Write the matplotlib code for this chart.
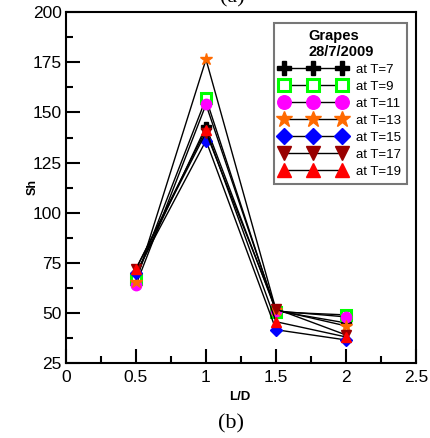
import matplotlib
matplotlib.use("Agg")
import matplotlib.pyplot as plt

plt.rcParams['font.family'] = ['Liberation Sans', 'DejaVu Sans']

x_ld = [0.5, 1.0, 1.5, 2.0]
labels = ["at T=7", "at T=9", "at T=11", "at T=13", "at T=15", "at T=17", "at T=19"]
sh_t7 = [69, 143, 51, 45]
sh_t9 = [67, 157, 50.5, 49]
sh_t11 = [64, 154, 51, 48]
sh_t13 = [65.5, 176.5, 51.5, 43.5]
sh_t15 = [70, 136, 41.6, 36.5]
sh_t17 = [72, 140, 52, 39]
sh_t19 = [72, 141.5, 45.6, 38]
series = [sh_t7, sh_t9, sh_t11, sh_t13, sh_t15, sh_t17, sh_t19]

styles = [
    dict(marker='P', mfc='black', mec='black', ms=7.5),
    dict(marker='s', mfc='white', mec='#00ff00', ms=7, mew=2.2),
    dict(marker='o', mfc='#ff00ff', mec='#ff00ff', ms=7.5),
    dict(marker='*', mfc='#ff6a00', mec='#ff6a00', ms=9),
    dict(marker='D', mfc='#0000ff', mec='#0000ff', ms=6),
    dict(marker='v', mfc='#990000', mec='#990000', ms=7.5),
    dict(marker='^', mfc='#ff0000', mec='#ff0000', ms=7.5),
]

fig = plt.figure(figsize=(4.3, 4.38), dpi=100)
ax = fig.add_axes([66/430, 1-363/438, (416-66)/430, (363-12.3)/438])

for ys, lab, st in zip(series, labels, styles):
    ax.plot(x_ld, ys, color='black', lw=1.0, label=lab, **st)

ax.set_xlim(0, 2.5)
ax.set_ylim(25, 200)
ax.set_xticks([0, 0.5, 1, 1.5, 2, 2.5])
ax.set_xticklabels(['0', '0.5', '1', '1.5', '2', '2.5'])
ax.set_yticks([25, 50, 75, 100, 125, 150, 175, 200])
ax.set_xticks([0.25, 0.75, 1.25, 1.75, 2.25], minor=True)
ax.set_yticks([37.5, 62.5, 87.5, 112.5, 137.5, 162.5, 187.5], minor=True)
ax.tick_params(which='major', direction='in', length=10, width=1.5, labelsize=12.5)
ax.tick_params(which='minor', direction='in', length=5, width=1.5)
ax.tick_params(axis='y', pad=3)
ax.tick_params(axis='x', pad=5)
for sp in ax.spines.values():
    sp.set_linewidth(1.5)

fig.text(33/430, 1-187/438, 'Sh', rotation=90, fontsize=9, fontweight='bold', ha='center', va='center')
fig.text(240/430, 1-397/438, 'L/D', fontsize=9.5, fontweight='bold', ha='center', va='center')
fig.text(231/430, 1-424/438, '(b)', fontsize=16, family='Liberation Serif', ha='center', va='center')
fig.text(232/430, 1+2/438, '(a)', fontsize=16, family='Liberation Serif', ha='center', va='center')

leg = ax.legend(loc='upper left', bbox_to_anchor=(274/430, 1-22.7/438), bbox_transform=fig.transFigure,
                numpoints=3, handlelength=5.0, fontsize=9.5, frameon=True, fancybox=False,
                markerscale=1.3,
                title='Grapes\n28/7/2009', title_fontproperties={'weight': 'bold', 'size': 10.5},
                borderpad=0.45, labelspacing=0.36, handletextpad=0.8, borderaxespad=0)
leg.get_frame().set_edgecolor('#555555')
leg.get_frame().set_linewidth(1.5)

fig.savefig('out.png', dpi=100)
